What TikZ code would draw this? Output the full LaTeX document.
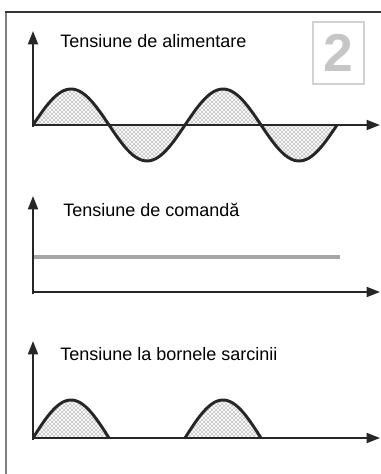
\documentclass[tikz,border=0pt]{standalone}
\usepackage{fontspec}
\setsansfont{Liberation Sans}
\usetikzlibrary{arrows.meta,patterns}

\begin{document}
\begin{tikzpicture}[x=0.75pt, y=-0.75pt, every node/.style={font=\sffamily\fontsize{13.5}{15}\selectfont, anchor=base west, inner sep=0pt},
	>={Triangle[length=10pt,width=7.5pt]},
	axis/.style={line width=1.4pt, black!85, ->},
	wave/.style={line width=2.2pt, black!85},
	hatch/.style={pattern=crosshatch, pattern color=gray!50}]
	\useasboundingbox (0,0) rectangle (381,474);
	\draw[line width=2.2pt, gray] (6,12) -- (6,474);
	\draw[line width=1.2pt, black!80] (5,12) -- (381,12);
	\draw[line width=2pt, gray!35] (313,22) rectangle (364,84);
	\node[anchor=center, text=gray!45, font=\sffamily\bfseries\fontsize{40}{40}\selectfont] (nr) at (338.5,53) {2};
	% alimentare
	\fill[hatch] plot[domain=0:304, samples=120] ({33+\x},{125-36*sin(2.368*\x)}) -- cycle;
	\draw[wave] plot[domain=0:304, samples=120] ({33+\x},{125-36*sin(2.368*\x)});
	\draw[axis] (33,127) -- (33,31);
	\draw[axis] (32,125) -- (380,125);
	\node (lbl1) at (60,48) {Tensiune de alimentare};
	% comanda
	\draw[line width=3.5pt, gray!70] (33,257) -- (340,257);
	\draw[axis] (33,294) -- (33,196);
	\draw[axis] (32,292) -- (380,292);
	\node (lbl2) at (63,216) {Tensiune de comandă};
	% sarcina
	\foreach \s in {33,185}{
		\fill[hatch] plot[domain=0:76, samples=40] ({\s+\x},{438-38*sin(2.368*\x)}) -- cycle;
		\draw[wave] plot[domain=0:76, samples=40] ({\s+\x},{438-38*sin(2.368*\x)});
	}
	\draw[axis] (33,440) -- (33,341);
	\draw[axis] (32,438) -- (380,438);
	\node (lbl3) at (60,360) {Tensiune la bornele sarcinii};
\end{tikzpicture}
\end{document}
